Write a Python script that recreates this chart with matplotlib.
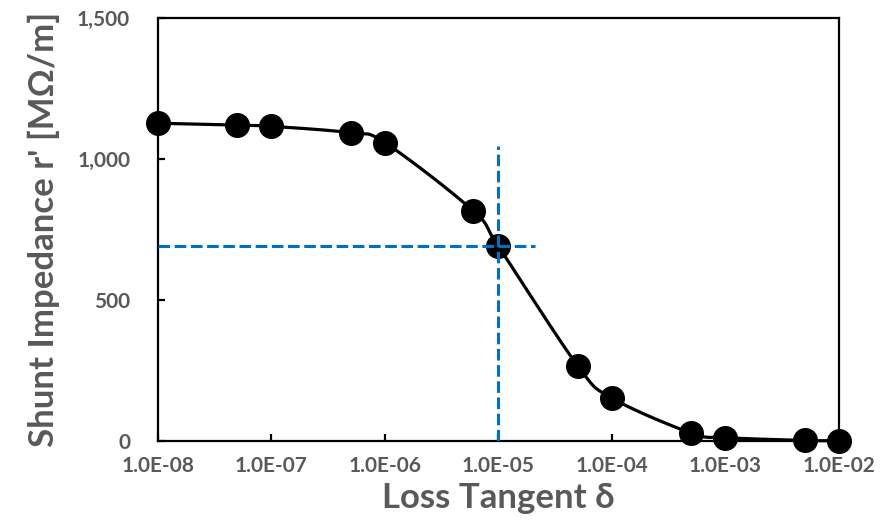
import numpy as np
import matplotlib
matplotlib.use("Agg")
import matplotlib.pyplot as plt
from matplotlib.ticker import FixedLocator, FuncFormatter

# Loss tangent sweep and resulting shunt impedance
loss_tangent = [1e-8, 5e-8, 1e-7, 5e-7, 1e-6, 6e-6, 1e-5, 5e-5, 1e-4, 5e-4, 1e-3, 5e-3, 1e-2]
shunt_impedance = [1127, 1120, 1116, 1093, 1058, 816, 690, 266, 152, 28, 12, 2, 1]

# Reference cross-hair at tan(delta) = 1e-5
cross_x = 1e-5
cross_y = 690
vline_top = 1045
hline_end = 2.1e-5

x_ticks = [1e-8, 1e-7, 1e-6, 1e-5, 1e-4, 1e-3, 1e-2]
y_ticks = [0, 500, 1000, 1500]

GREY = "#595959"
FONT = "Lato"


def catmull_rom(px, py, n=40):
    """Smooth curve through points (Catmull-Rom in axes-normalised space)."""
    pts = np.column_stack([px, py])
    ext = np.vstack([pts[0] - (pts[1] - pts[0]), pts, pts[-1] + (pts[-1] - pts[-2])])
    out = []
    for i in range(1, len(ext) - 2):
        p0, p1, p2, p3 = ext[i - 1], ext[i], ext[i + 1], ext[i + 2]
        t = np.linspace(0, 1, n, endpoint=False)[:, None]
        seg = 0.5 * ((2 * p1) + (-p0 + p2) * t + (2 * p0 - 5 * p1 + 4 * p2 - p3) * t ** 2
                     + (-p0 + 3 * p1 - 3 * p2 + p3) * t ** 3)
        out.append(seg)
    out.append(pts[-1:])
    return np.vstack(out)


fig = plt.figure(figsize=(8.92, 5.31), dpi=100)
ax = fig.add_axes([0.177, 0.1695, 0.7636, 0.7965])
ax.set_xscale("log")
ax.set_xlim(1e-8, 1e-2)
ax.set_ylim(0, 1500)

# smooth connecting line, computed in normalised log-x / y space
lx = (np.log10(loss_tangent) + 8) / 6.0
ly = np.array(shunt_impedance) / 1500.0 * (423.0 / 681.0)
curve = catmull_rom(lx, ly)
cx = 10 ** (curve[:, 0] * 6.0 - 8)
cy = curve[:, 1] / (423.0 / 681.0) * 1500.0
ax.plot(cx, cy, color="black", lw=2.3, zorder=3, clip_on=False)

ax.plot(loss_tangent, shunt_impedance, linestyle="none", marker="o", ms=17,
        color="black", zorder=4, clip_on=False)

ax.plot([cross_x, cross_x], [0, vline_top], color="#0070C0", lw=2.2,
        dashes=(3.8, 1.5), zorder=5)
ax.plot([1e-8, hline_end], [cross_y, cross_y], color="#0070C0", lw=2.2,
        dashes=(3.8, 1.5), zorder=5)

for s in ax.spines.values():
    s.set_linewidth(1.6)
    s.set_color("black")

ax.xaxis.set_major_locator(FixedLocator(x_ticks))
ax.xaxis.set_minor_locator(FixedLocator([]))
ax.yaxis.set_major_locator(FixedLocator(y_ticks))
ax.xaxis.set_major_formatter(FuncFormatter(lambda v, p: "1.0E-%02d" % round(-np.log10(v))))
ax.yaxis.set_major_formatter(FuncFormatter(lambda v, p: f"{int(v):,}"))
ax.tick_params(axis="both", direction="in", length=5, width=1.6, color="black",
               labelcolor=GREY, labelsize=15)
ax.tick_params(axis="x", pad=11)
ax.tick_params(axis="y", pad=20)
for lab in ax.get_xticklabels() + ax.get_yticklabels():
    lab.set_fontfamily(FONT)
    lab.set_fontweight("bold")

ax.set_xlabel("Loss Tangent δ", fontsize=25, fontweight="bold", color=GREY,
              family=[FONT, "DejaVu Sans"], labelpad=4)
ax.set_ylabel("Shunt Impedance r' [MΩ/m]", fontsize=25, fontweight="bold", color=GREY,
              family=[FONT, "DejaVu Sans"], labelpad=12)

fig.savefig("out.png", dpi=100)
